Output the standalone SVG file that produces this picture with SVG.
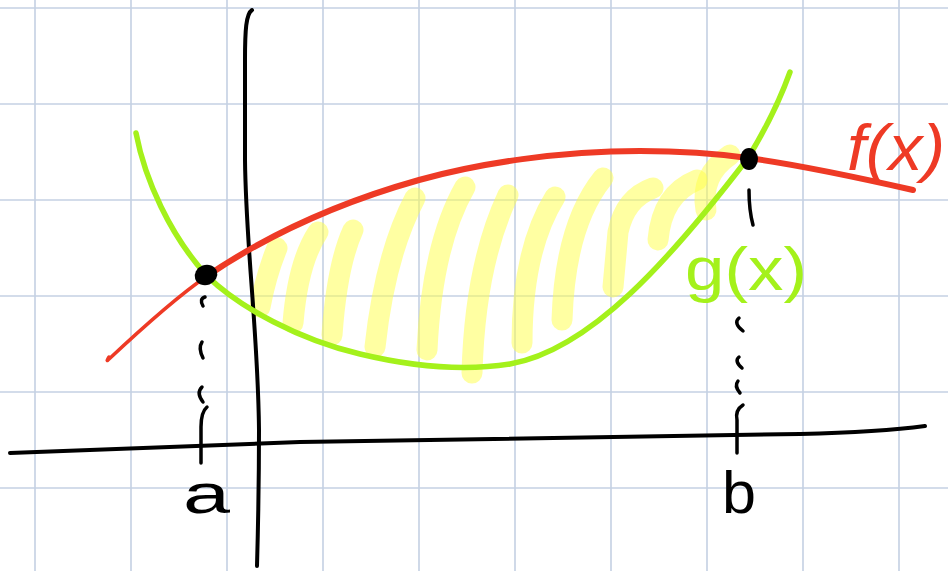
<svg xmlns="http://www.w3.org/2000/svg" width="948" height="571" viewBox="0 0 948 571">
<style>
.grid line{stroke:#c4d0e3;stroke-width:1.6}
.hl path{fill:none;stroke:#ffff45;stroke-opacity:0.5;stroke-width:21;stroke-linecap:round;stroke-linejoin:round}
.ink{fill:none;stroke:#000;stroke-linecap:round;stroke-linejoin:round}
.mark{fill:none;stroke:#000;stroke-width:3.5;stroke-linecap:round;stroke-linejoin:round}
.lbl{font-family:"Liberation Sans","DejaVu Sans",sans-serif}
</style>
<rect width="948" height="571" fill="#fff"/>
<g id="grid" class="grid">
<line x1="35" y1="0" x2="35" y2="571"/><line x1="131" y1="0" x2="131" y2="571"/><line x1="227" y1="0" x2="227" y2="571"/><line x1="323" y1="0" x2="323" y2="571"/><line x1="419" y1="0" x2="419" y2="571"/><line x1="515" y1="0" x2="515" y2="571"/><line x1="611" y1="0" x2="611" y2="571"/><line x1="707" y1="0" x2="707" y2="571"/><line x1="803" y1="0" x2="803" y2="571"/><line x1="899" y1="0" x2="899" y2="571"/>
<line x1="0" y1="8" x2="948" y2="8"/><line x1="0" y1="104" x2="948" y2="104"/><line x1="0" y1="200" x2="948" y2="200"/><line x1="0" y1="296" x2="948" y2="296"/><line x1="0" y1="392" x2="948" y2="392"/><line x1="0" y1="488" x2="948" y2="488"/>
</g>
<g id="highlight" class="hl">
<path d="M277,248 Q266,275 260,307"/>
<path d="M318,232 Q298,262 293,323"/>
<path d="M353,230 Q337,265 332,335"/>
<path d="M415,198 Q385,255 375,347"/>
<path d="M465,187 Q432,245 427,350"/>
<path d="M508,195 Q475,265 472,373"/>
<path d="M555,197 Q522,250 522,343"/>
<path d="M603,178 Q565,225 562,320"/>
<path d="M653,188 Q625,198 618,232 L613,287"/>
<path d="M697,180 Q662,194 658,240"/>
<path d="M730,155 Q700,175 706,210"/>
</g>
<g id="axes">
<path class="ink" stroke-width="4" d="M10,453 L300,442 Q650,436 800,434 Q880,432 925,426"/>
<path class="ink" stroke-width="4" d="M252,10 C246,14 245,30 245,60 L245,160 C246,250 258,330 259,430 C259,490 258,530 257,566"/>
</g>
<g id="f-curve">
<path fill="none" stroke="#ee3a25" stroke-width="3.5" stroke-linecap="round" d="M109,357 Q106,362 108,360 C140,330 175,298 207,276"/>
<path fill="none" stroke="#ee3a25" stroke-width="6" stroke-linecap="round" d="M200,281 L207,276 C260,240 330,205 419,180 C480,163 560,151 640,151 C690,151 720,154 748,158 C800,165 860,178 913,190"/>
</g>
<g id="g-curve">
<path fill="none" stroke="#a4f11b" stroke-width="5.5" stroke-linecap="round" d="M136,133 C145,180 170,235 207,276 C240,308 300,340 360,354 C410,366 460,372 510,364 C590,350 670,260 748,158 C765,130 780,100 790,72"/>
</g>
<g id="point-a">
<ellipse cx="206" cy="275" rx="11.5" ry="10" fill="#000" transform="rotate(-20 206 275)"/>
<path class="mark" d="M205,297 Q199,299 203,306"/>
<path class="mark" d="M202,342 Q198,348 203,358"/>
<path class="mark" d="M202,387 Q196,393 203,402"/>
<path class="mark" d="M207,407 Q201,412 201,427 L201,463"/>
</g>
<g id="point-b">
<ellipse cx="749" cy="159" rx="9" ry="11" fill="#000"/>
<path class="mark" d="M749,190 Q749,210 753,225"/>
<path class="mark" d="M739,318 Q733,323 743,331"/>
<path class="mark" d="M739,357 Q734,361 742,368"/>
<path class="mark" d="M738,381 Q734,386 740,393"/>
<path class="mark" d="M743,405 Q735,410 737,420 L737,453"/>
</g>
<g id="labels" class="lbl">
<text x="183" y="513" font-size="56" textLength="47" lengthAdjust="spacingAndGlyphs" fill="#000">a</text>
<text x="722" y="513" font-size="60" textLength="34" lengthAdjust="spacingAndGlyphs" fill="#000">b</text>
<text x="847" y="170" font-size="64" font-style="italic" textLength="98" lengthAdjust="spacingAndGlyphs" fill="#ee3a25">f(x)</text>
<text x="685" y="290" font-size="62" textLength="122" lengthAdjust="spacingAndGlyphs" fill="#a4f11b">g(x)</text>
</g>
</svg>
